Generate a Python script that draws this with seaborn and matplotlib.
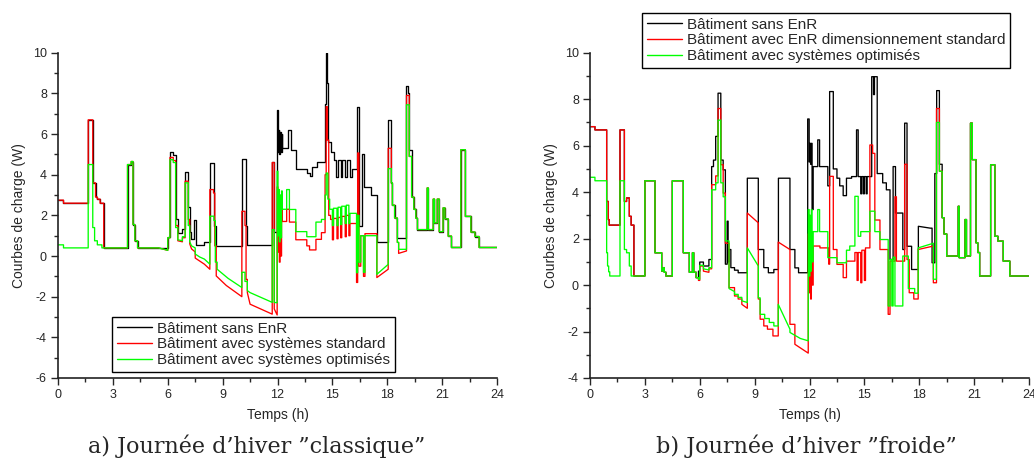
import numpy as np
import pandas as pd
import matplotlib
matplotlib.use("Agg")
import matplotlib.pyplot as plt
from matplotlib.lines import Line2D
from matplotlib.ticker import MultipleLocator
import seaborn as sns

# ---------------- data : panel a) "classique" ----------------
a_head = [(0, 2.75), (0.3, 2.75), (0.3, 2.6), (1.65, 2.6), (1.65, 6.7), (1.9, 6.7), (1.9, 3.6),
          (2.05, 3.6), (2.05, 2.9), (2.15, 2.9), (2.15, 2.8), (2.3, 2.8), (2.3, 2.6), (2.5, 2.6),
          (2.5, 0.4), (3.8, 0.4)]
a_mid = [(3.8, 4.5), (4.0, 4.5), (4.0, 4.65), (4.1, 4.65), (4.1, 1.55), (4.2, 1.55), (4.2, 0.75),
         (4.35, 0.75), (4.35, 0.4)]
a_tail = [(19.33, 2.9), (19.45, 2.9), (19.45, 2.3), (19.56, 2.3), (19.56, 1.86), (19.65, 1.86),
          (19.65, 1.3), (20.18, 1.3), (20.18, 3.35), (20.24, 3.35), (20.24, 1.3), (20.51, 1.3),
          (20.51, 2.8), (20.58, 2.8), (20.58, 1.63), (20.73, 1.63), (20.73, 2.8), (20.84, 2.8),
          (20.84, 1.2), (21.05, 1.2), (21.05, 2.37), (21.15, 2.37), (21.15, 1.83), (21.33, 1.83),
          (21.33, 0.98), (21.51, 0.98), (21.51, 0.42), (22.02, 0.42), (22.02, 5.23), (22.27, 5.23),
          (22.27, 1.95), (22.57, 1.95), (22.57, 1.18), (22.79, 1.18), (22.79, 0.96), (23.02, 0.96),
          (23.02, 0.42), (24, 0.42)]
a_sans_body = [(6.0, 0.4), (6.0, 0.95), (6.12, 0.95), (6.12, 5.1), (6.3, 5.1), (6.3, 4.95), (6.43, 4.95),
               (6.43, 1.8), (6.55, 1.8), (6.55, 1.15), (6.8, 1.15), (6.8, 1.35), (6.95, 1.35), (6.95, 4.15),
               (7.12, 4.15), (7.12, 2.4), (7.2, 2.4), (7.2, 1.2), (7.25, 1.2), (7.25, 0.85), (7.45, 0.85),
               (7.45, 1.75), (7.55, 1.75), (7.55, 0.55), (8.0, 0.55), (8.0, 0.68), (8.3, 0.68), (8.3, 4.6),
               (8.52, 4.6), (8.52, 1.5), (8.62, 1.5), (8.62, 0.5), (10.05, 0.5), (10.05, 4.77), (10.25, 4.77),
               (10.25, 1.5), (10.35, 1.5), (10.35, 0.52), (11.71, 0.52), (11.71, 4.63), (11.82, 4.63),
               (11.82, 1.2), (11.98, 1.2), (11.98, 7.2), (12.02, 7.2), (12.02, 5.1), (12.06, 5.1), (12.06, 6.2),
               (12.1, 6.2), (12.1, 5.0), (12.14, 5.0), (12.14, 6.1), (12.18, 6.1), (12.18, 5.1), (12.22, 5.1),
               (12.22, 6.0), (12.26, 6.0), (12.26, 5.3), (12.55, 5.3), (12.55, 6.2), (12.75, 6.2), (12.75, 5.2),
               (13.0, 5.2), (13.0, 4.3), (13.6, 4.3), (13.6, 4.1), (13.75, 4.1), (13.75, 3.95), (13.9, 3.95),
               (13.9, 4.4), (14.15, 4.4), (14.15, 4.65), (14.6, 4.65), (14.6, 7.5), (14.66, 7.5), (14.66, 10.0),
               (14.72, 10.0), (14.72, 8.5), (14.78, 8.5), (14.78, 5.6), (14.9, 5.6), (14.9, 5.1), (15.1, 5.1),
               (15.1, 4.7), (15.2, 4.7), (15.2, 3.9), (15.3, 3.9), (15.3, 4.7), (15.45, 4.7), (15.45, 3.9),
               (15.55, 3.9), (15.55, 4.7), (15.7, 4.7), (15.7, 3.9), (15.8, 3.9), (15.8, 4.7), (15.95, 4.7),
               (15.95, 3.9), (16.05, 3.9), (16.05, 4.3), (16.32, 4.3), (16.32, 7.35), (16.45, 7.35),
               (16.45, 1.5), (16.62, 1.5), (16.62, 5.0), (16.75, 5.0), (16.75, 3.4), (17.1, 3.4), (17.1, 3.0),
               (17.43, 3.0), (17.43, 0.67), (18.05, 0.67), (18.05, 6.7), (18.22, 6.7), (18.22, 3.6),
               (18.28, 3.6), (18.28, 2.5), (18.4, 2.5), (18.4, 1.87), (18.55, 1.87), (18.55, 0.9),
               (19.05, 0.9), (19.05, 8.37), (19.15, 8.37), (19.15, 8.0), (19.2, 8.0), (19.2, 5.2), (19.33, 5.2)]
a_std_body = [(5.5, 0.4), (6.0, 0.28), (6.0, 0.9), (6.12, 0.9), (6.12, 4.85), (6.3, 4.85), (6.3, 4.7),
              (6.43, 4.7), (6.43, 1.5), (6.55, 1.5), (6.55, 0.75), (6.8, 0.7), (6.8, 0.9), (6.95, 0.9),
              (6.95, 3.68), (7.12, 3.68), (7.12, 1.8), (7.2, 1.8), (7.2, 0.6), (7.3, 0.35), (7.5, 0.2),
              (7.5, -0.1), (7.75, -0.25), (8.0, -0.4), (8.3, -0.65), (8.3, 3.27), (8.5, 3.27), (8.5, 3.1),
              (8.57, 3.1), (8.57, 0.5), (8.65, 0.5), (8.65, -0.98), (9.2, -1.45), (10.05, -2.0), (10.05, 2.2),
              (10.22, 2.2), (10.22, 1.5), (10.28, 1.5), (10.28, -1.15), (10.35, -1.15), (10.35, -1.8),
              (10.5, -2.37), (11.71, -2.86), (11.71, 4.6), (11.82, 4.6), (11.82, -2.6), (11.98, -2.9),
              (11.98, 3.4), (12.02, 3.4), (12.02, 0.2), (12.06, 0.2), (12.06, 2.6), (12.1, 2.6), (12.1, -0.3),
              (12.14, -0.3), (12.14, 2.5), (12.18, 2.5), (12.18, 0.0), (12.22, 0.0), (12.22, 2.3), (12.26, 2.3),
              (12.26, 1.7), (12.5, 1.7), (12.5, 2.3), (12.65, 2.3), (12.65, 1.67), (13.0, 1.67), (13.0, 0.8),
              (13.6, 0.8), (13.6, 0.5), (13.75, 0.5), (13.75, 0.3), (14.1, 0.3), (14.1, 0.82), (14.4, 0.82),
              (14.4, 1.15), (14.6, 1.15), (14.6, 4.0), (14.66, 4.0), (14.66, 7.35), (14.72, 7.35), (14.72, 5.7),
              (14.8, 5.7), (14.8, 2.0), (14.9, 2.0), (14.9, 1.8), (15.0, 1.8), (15.0, 0.8), (15.06, 0.8),
              (15.06, 1.85), (15.25, 1.85), (15.25, 0.85), (15.31, 0.85), (15.31, 1.9), (15.45, 1.9),
              (15.45, 0.9), (15.51, 0.9), (15.51, 1.95), (15.7, 1.95), (15.7, 0.95), (15.76, 0.95),
              (15.76, 2.0), (15.9, 2.0), (15.9, 1.0), (15.96, 1.0), (15.96, 1.6), (16.32, 1.6), (16.32, -1.3),
              (16.38, -1.3), (16.38, 5.07), (16.45, 5.07), (16.45, -0.5), (16.55, -0.5), (16.55, 1.0),
              (16.7, 1.0), (16.7, -1.0), (16.78, -1.0), (16.78, 1.1), (17.43, 1.1), (17.43, -1.06),
              (18.05, -0.65), (18.05, 5.3), (18.22, 5.3), (18.22, 3.6), (18.28, 3.6), (18.28, 2.5), (18.4, 2.5),
              (18.4, 1.87), (18.55, 1.87), (18.55, 0.67), (18.62, 0.67), (18.62, 0.13), (19.05, 0.25),
              (19.05, 7.9), (19.2, 7.9), (19.2, 4.9), (19.33, 4.9)]
a_opt_head = [(0, 0.55), (0.3, 0.55), (0.3, 0.4), (1.65, 0.4), (1.65, 4.5), (1.9, 4.5), (1.9, 1.4), (2.0, 1.4),
              (2.0, 0.75), (2.15, 0.75), (2.15, 0.55), (2.4, 0.55), (2.4, 0.4), (3.8, 0.4)]
a_opt_body = [(5.5, 0.4), (6.0, 0.28), (6.0, 0.9), (6.12, 0.9), (6.12, 4.74), (6.3, 4.74), (6.3, 4.6),
              (6.43, 4.6), (6.43, 1.4), (6.55, 1.4), (6.55, 0.8), (6.8, 0.75), (6.8, 0.95), (6.95, 0.95),
              (6.95, 3.6), (7.12, 3.6), (7.12, 1.5), (7.2, 1.5), (7.2, 0.7), (7.3, 0.5), (7.5, 0.4), (7.5, 0.1),
              (7.75, -0.05), (8.0, -0.15), (8.3, -0.4), (8.3, 1.96), (8.52, 1.96), (8.52, 1.75), (8.6, 1.75),
              (8.6, -0.3), (8.7, -0.3), (8.7, -0.65), (9.3, -1.1), (10.05, -1.55), (10.05, -0.8), (10.22, -0.8),
              (10.22, -1.25), (10.35, -1.25), (10.35, -1.7), (10.5, -1.8), (11.71, -2.28), (11.71, 1.3),
              (11.82, 1.3), (11.82, -2.28), (11.98, -2.3), (11.98, 4.17), (12.02, 4.17), (12.02, 1.0),
              (12.06, 1.0), (12.06, 3.27), (12.1, 3.27), (12.1, 0.7), (12.14, 0.7), (12.14, 3.0), (12.18, 3.0),
              (12.18, 0.9), (12.22, 0.9), (12.22, 3.2), (12.26, 3.2), (12.26, 2.3), (12.5, 2.3), (12.5, 3.27),
              (12.65, 3.27), (12.65, 2.29), (13.0, 2.29), (13.0, 1.2), (13.6, 1.2), (13.6, 0.95), (14.1, 0.95),
              (14.1, 1.67), (14.4, 1.67), (14.4, 1.8), (14.6, 1.8), (14.6, 3.0), (14.66, 3.0), (14.66, 4.08),
              (14.75, 4.08), (14.75, 2.8), (14.85, 2.8), (14.85, 2.3), (15.0, 2.3), (15.0, 1.5), (15.06, 1.5),
              (15.06, 2.35), (15.25, 2.35), (15.25, 1.5), (15.31, 1.5), (15.31, 2.4), (15.45, 2.4),
              (15.45, 1.55), (15.51, 1.55), (15.51, 2.45), (15.7, 2.45), (15.7, 1.6), (15.76, 1.6),
              (15.76, 2.5), (15.9, 2.5), (15.9, 1.6), (15.96, 1.6), (15.96, 2.1), (16.32, 2.1), (16.32, -0.82),
              (16.38, -0.82), (16.38, 2.0), (16.45, 2.0), (16.45, -0.3), (16.55, -0.3), (16.55, 1.0),
              (16.7, 1.0), (16.7, -0.8), (16.78, -0.8), (16.78, 1.0), (17.43, 1.0), (17.43, -0.9),
              (18.05, -0.41), (18.05, 4.3), (18.22, 4.3), (18.22, 3.6), (18.28, 3.6), (18.28, 2.5), (18.4, 2.5),
              (18.4, 1.87), (18.55, 1.87), (18.55, 0.67), (18.62, 0.67), (18.62, 0.33), (19.05, 0.33),
              (19.05, 7.44), (19.2, 7.44), (19.2, 4.9), (19.33, 4.9)]

# ---------------- data : panel b) "froide" ----------------
b_head = [(0, 6.82), (0.27, 6.82), (0.27, 6.68), (0.91, 6.68), (0.91, 3.6), (1.0, 3.6), (1.0, 2.82),
          (1.05, 2.82), (1.05, 2.58), (1.64, 2.58), (1.64, 6.68), (1.88, 6.68), (1.88, 3.6), (2.0, 3.6),
          (2.0, 3.75), (2.15, 3.75), (2.15, 2.96), (2.25, 2.96), (2.25, 2.58), (2.4, 2.58), (2.4, 0.39),
          (3.0, 0.39)]
b_opt_head = [(0, 4.64), (0.27, 4.64), (0.27, 4.49), (0.91, 4.49), (0.91, 1.39), (0.96, 1.39), (0.96, 0.82),
              (1.02, 0.82), (1.02, 0.57), (1.08, 0.57), (1.08, 0.39), (1.64, 0.39), (1.64, 4.49), (1.88, 4.49),
              (1.88, 1.53), (2.0, 1.53), (2.0, 1.39), (2.15, 1.39), (2.15, 0.82), (2.25, 0.82), (2.25, 0.39),
              (3.0, 0.39)]
b_mid = [(3.0, 4.49), (3.55, 4.49), (3.55, 1.39), (3.92, 1.39), (3.92, 0.6), (4.0, 0.6), (4.0, 0.75),
         (4.06, 0.75), (4.06, 0.55), (4.15, 0.55), (4.15, 0.39), (4.5, 0.39), (4.5, 4.49), (5.1, 4.49),
         (5.1, 1.39), (5.43, 1.39), (5.43, 0.55), (5.6, 0.55), (5.6, 1.39), (5.67, 1.39), (5.67, 0.55),
         (5.8, 0.55), (5.8, 0.32), (5.93, 0.32)]
b_tail = [(19.25, 2.9), (19.35, 2.9), (19.35, 2.2), (19.5, 2.2), (19.5, 1.25), (20.13, 1.25), (20.13, 3.39),
          (20.18, 3.39), (20.18, 1.18), (20.5, 1.18), (20.5, 2.82), (20.58, 2.82), (20.58, 1.25), (20.8, 1.25),
          (20.8, 6.97), (20.9, 6.97), (20.9, 5.4), (21.1, 5.4), (21.1, 1.82), (21.2, 1.82), (21.2, 1.4),
          (21.3, 1.4), (21.3, 0.39), (21.9, 0.39), (21.9, 5.18), (22.13, 5.18), (22.13, 2.1), (22.3, 2.1),
          (22.3, 1.89), (22.59, 1.89), (22.59, 1.03), (22.95, 1.03), (22.95, 0.39), (24, 0.39)]
b_sans_body = [(5.93, 0.6), (6.0, 0.6), (6.0, 0.99), (6.2, 0.99), (6.2, 0.82), (6.5, 0.82), (6.5, 1.1),
               (6.65, 1.1), (6.65, 5.1), (6.75, 5.1), (6.75, 5.38), (6.87, 5.38), (6.87, 6.4), (7.0, 6.4),
               (7.0, 8.26), (7.15, 8.26), (7.15, 5.38), (7.28, 5.38), (7.28, 4.96), (7.4, 4.96), (7.4, 0.9),
               (7.5, 0.9), (7.5, 2.75), (7.55, 2.75), (7.55, 1.0), (7.6, 1.0), (7.6, 1.53), (7.7, 1.53),
               (7.7, 0.75), (7.9, 0.75), (7.9, 0.64), (8.1, 0.64), (8.1, 0.53), (8.6, 0.53), (8.6, 4.6),
               (9.2, 4.6), (9.2, 1.53), (9.5, 1.53), (9.5, 0.75), (9.75, 0.75), (9.75, 0.53), (10.05, 0.53),
               (10.05, 0.67), (10.3, 0.67), (10.3, 4.6), (10.93, 4.6), (10.93, 1.53), (11.2, 1.53),
               (11.2, 0.74), (11.4, 0.74), (11.4, 0.53), (11.9, 0.53), (11.9, 7.15), (11.98, 7.15),
               (11.98, 5.3), (12.02, 5.3), (12.02, 6.1), (12.06, 6.1), (12.06, 5.2), (12.1, 5.2), (12.1, 6.1),
               (12.14, 6.1), (12.14, 3.25), (12.2, 3.25), (12.2, 5.1), (12.45, 5.1), (12.45, 6.25),
               (12.55, 6.25), (12.55, 5.1), (13.0, 5.1), (13.0, 4.27), (13.1, 4.27), (13.1, 8.33),
               (13.3, 8.33), (13.3, 5.0), (13.5, 5.0), (13.5, 4.6), (13.65, 4.6), (13.65, 4.27), (13.84, 4.27),
               (13.84, 3.85), (14.02, 3.85), (14.02, 4.6), (14.3, 4.6), (14.3, 4.67), (14.57, 4.67),
               (14.57, 6.68), (14.66, 6.68), (14.66, 4.67), (14.8, 4.67), (14.8, 3.93), (14.86, 3.93),
               (14.86, 4.67), (14.95, 4.67), (14.95, 3.93), (15.0, 3.93), (15.0, 4.67), (15.1, 4.67),
               (15.1, 3.93), (15.15, 3.93), (15.15, 4.67), (15.4, 4.67), (15.4, 8.97), (15.5, 8.97),
               (15.5, 8.2), (15.55, 8.2), (15.55, 8.97), (15.7, 8.97), (15.7, 4.8), (16.0, 4.8), (16.0, 4.4),
               (16.2, 4.4), (16.2, 4.1), (16.4, 4.1), (16.4, 1.1), (16.57, 1.1), (16.57, 5.1), (16.7, 5.1),
               (16.7, 3.1), (17.1, 3.1), (17.1, 1.53), (17.2, 1.53), (17.2, 6.97), (17.33, 6.97), (17.33, 1.67),
               (17.58, 1.67), (17.58, 0.67), (17.95, 0.67), (17.95, 2.53), (18.6, 2.45), (18.7, 2.45),
               (18.7, 0.96), (18.85, 0.96), (18.85, 4.8), (18.95, 4.8), (18.95, 8.37), (19.1, 8.37),
               (19.1, 5.2), (19.25, 5.2)]
b_std_body = [(5.93, 0.2), (6.0, 0.2), (6.0, 0.82), (6.2, 0.82), (6.2, 0.6), (6.5, 0.55), (6.5, 0.7),
              (6.65, 0.7), (6.65, 4.32), (6.87, 4.32), (6.87, 4.7), (7.0, 4.7), (7.0, 7.6), (7.15, 7.6),
              (7.15, 5.18), (7.28, 5.18), (7.28, 3.96), (7.4, 3.96), (7.4, 1.8), (7.6, 1.8), (7.6, -0.11),
              (7.9, -0.11), (7.9, -0.47), (8.1, -0.47), (8.1, -0.6), (8.3, -0.6), (8.3, -0.83), (8.6, -1.0),
              (8.6, 3.1), (9.2, 2.68), (9.2, -0.6), (9.3, -0.6), (9.3, -1.47), (9.5, -1.47), (9.5, -1.76),
              (9.7, -1.76), (9.7, -1.9), (10.0, -1.9), (10.0, -2.19), (10.29, -2.19), (10.29, 1.85),
              (10.93, 1.53), (10.93, -1.69), (11.2, -1.69), (11.2, -2.55), (11.93, -2.93), (11.93, 2.2),
              (11.98, 2.2), (11.98, -0.33), (12.02, -0.33), (12.02, 1.9), (12.06, 1.9), (12.06, -0.6),
              (12.1, -0.6), (12.1, 2.0), (12.14, 2.0), (12.14, 0.0), (12.2, 0.0), (12.2, 1.68), (12.57, 1.68),
              (12.57, 1.6), (13.05, 1.6), (13.05, 0.9), (13.1, 0.9), (13.1, 4.68), (13.3, 4.68), (13.3, 1.53),
              (13.5, 1.53), (13.5, 0.89), (13.84, 0.89), (13.84, 0.32), (14.02, 0.32), (14.02, 1.03),
              (14.48, 1.03), (14.48, 1.4), (14.6, 1.4), (14.6, 0.2), (14.66, 0.2), (14.66, 1.4), (14.8, 1.4),
              (14.8, 0.1), (14.86, 0.1), (14.86, 1.5), (15.0, 1.5), (15.0, 0.2), (15.06, 0.2), (15.06, 1.6),
              (15.3, 1.6), (15.3, 6.03), (15.45, 6.03), (15.45, 5.67), (15.57, 5.67), (15.57, 2.8),
              (15.85, 2.8), (15.85, 1.53), (16.3, 1.53), (16.3, -1.26), (16.4, -1.26), (16.4, 1.03),
              (16.67, 1.03), (16.67, 3.8), (16.75, 3.8), (16.75, 1.03), (17.2, 1.03), (17.2, 5.2),
              (17.33, 5.2), (17.33, 1.1), (17.45, 1.1), (17.45, -0.33), (17.7, -0.33), (17.7, -0.6),
              (17.94, -0.6), (17.94, 1.53), (18.77, 1.68), (18.77, 0.1), (18.94, 0.1), (18.94, 7.6),
              (19.1, 7.6), (19.1, 4.9), (19.25, 4.9)]
b_opt_body = [(5.93, 0.25), (6.0, 0.25), (6.0, 0.85), (6.2, 0.85), (6.2, 0.7), (6.5, 0.65), (6.5, 0.75),
              (6.65, 0.75), (6.65, 4.1), (6.87, 4.1), (6.87, 4.4), (7.0, 4.4), (7.0, 7.1), (7.15, 7.1),
              (7.15, 4.4), (7.28, 4.4), (7.28, 3.8), (7.4, 3.8), (7.4, 1.9), (7.6, 1.9), (7.6, -0.15),
              (7.9, -0.28), (7.9, -0.4), (8.1, -0.4), (8.1, -0.53), (8.3, -0.53), (8.3, -0.68), (8.6, -0.75),
              (8.6, 1.6), (9.2, 0.82), (9.2, -0.55), (9.3, -0.55), (9.3, -1.26), (9.55, -1.26), (9.55, -1.44),
              (9.8, -1.44), (9.8, -1.61), (10.05, -1.61), (10.05, -1.76), (10.29, -1.76), (10.29, -0.83),
              (10.93, -1.9), (10.93, -2.04), (11.5, -2.3), (11.93, -2.4), (11.93, 3.25), (11.98, 3.25),
              (11.98, 0.39), (12.02, 0.39), (12.02, 3.0), (12.06, 3.0), (12.06, 0.6), (12.1, 0.6),
              (12.1, 3.25), (12.14, 3.25), (12.14, 1.0), (12.2, 1.0), (12.2, 2.3), (12.45, 2.3), (12.45, 3.25),
              (12.55, 3.25), (12.55, 2.3), (13.0, 2.3), (13.0, 1.18), (13.5, 1.18), (13.5, 0.96),
              (14.02, 0.96), (14.02, 1.5), (14.2, 1.5), (14.2, 1.68), (14.48, 1.68), (14.48, 3.82),
              (14.66, 3.82), (14.66, 2.1), (14.8, 2.1), (14.8, 2.3), (15.3, 2.3), (15.3, 3.18), (15.57, 3.18),
              (15.57, 2.3), (15.85, 2.3), (15.85, 1.96), (16.3, 1.96), (16.3, -0.9), (16.4, -0.9), (16.4, 1.1),
              (16.5, 1.1), (16.5, -0.9), (16.57, -0.9), (16.57, 1.2), (16.67, 1.2), (16.67, -0.9),
              (17.1, -0.9), (17.1, 1.25), (17.4, 1.25), (17.4, -0.15), (17.75, -0.15), (17.75, -0.35),
              (17.94, -0.35), (17.94, 1.6), (18.77, 1.8), (18.77, 0.25), (18.94, 0.25), (18.94, 7.0),
              (19.1, 7.0), (19.1, 4.9), (19.25, 4.9)]

labels_a = ["Bâtiment sans EnR", "Bâtiment avec systèmes standard", "Bâtiment avec systèmes optimisés"]
labels_b = ["Bâtiment sans EnR", "Bâtiment avec EnR dimensionnement standard", "Bâtiment avec systèmes optimisés"]
captions = ["a) Journée d’hiver ”classique”", "b) Journée d’hiver ”froide”"]
colors = ["#000000", "#FF0000", "#00FF00"]

series_a = [a_head + a_mid + a_sans_body + a_tail,
            a_head + a_mid + a_std_body + a_tail,
            a_opt_head + a_mid + a_opt_body + a_tail]
series_b = [b_head + b_mid + b_sans_body + b_tail,
            b_head + b_mid + b_std_body + b_tail,
            b_opt_head + b_mid + b_opt_body + b_tail]

# ---------------- style ----------------
sns.set_style("ticks")
plt.rcParams["font.family"] = ["Liberation Sans", "DejaVu Sans"]
plt.rcParams["axes.unicode_minus"] = False

fig = plt.figure(figsize=(10.34, 4.72), dpi=100)
ax_a = fig.add_axes([0.0561, 0.1992, 0.4246, 0.689])
ax_b = fig.add_axes([0.5706, 0.1992, 0.4246, 0.689])


def draw(ax, series, ylim):
    for pts, col in zip(series, colors):
        df = pd.DataFrame(pts, columns=["t", "v"])
        sns.lineplot(data=df, x="t", y="v", ax=ax, sort=False, estimator=None,
                     color=col, linewidth=0.95, legend=False)
    ax.set_xlim(0, 24)
    ax.set_ylim(*ylim)
    ax.xaxis.set_major_locator(MultipleLocator(3))
    ax.xaxis.set_minor_locator(MultipleLocator(1.5))
    ax.yaxis.set_major_locator(MultipleLocator(2))
    ax.yaxis.set_minor_locator(MultipleLocator(1))
    for s in ["top", "right"]:
        ax.spines[s].set_visible(False)
    for s in ["left", "bottom"]:
        ax.spines[s].set_linewidth(1.2)
        ax.spines[s].set_color("#222222")
    ax.tick_params(which="major", direction="out", length=5, width=1.0, labelsize=9, pad=3)
    ax.tick_params(which="minor", direction="out", length=3, width=1.0)
    ax.set_xlabel("Temps (h)", fontsize=10, labelpad=5)
    ax.set_ylabel("Courbes de charge (W)", fontsize=10, labelpad=5)


draw(ax_a, series_a, (-6, 10))
draw(ax_b, series_b, (-4, 10))
handles = [Line2D([0], [0], color=c, linewidth=1.0) for c in colors]

leg_kw = dict(loc="upper left", bbox_transform=fig.transFigure, fontsize=11, frameon=True,
              fancybox=False, handlelength=2.3, handletextpad=0.35, borderpad=0.3,
              labelspacing=0.12, borderaxespad=0)
leg_a = ax_a.legend(handles, labels_a, bbox_to_anchor=(112 / 1034, 1 - 317 / 472), **leg_kw)
leg_b = ax_b.legend(handles, labels_b, bbox_to_anchor=(642 / 1034, 1 - 13 / 472), **leg_kw)
for leg in (leg_a, leg_b):
    fr = leg.get_frame()
    fr.set_edgecolor("black")
    fr.set_linewidth(1.0)
    fr.set_alpha(1)

cap_font = ["DejaVu Serif"]
fig.text(257 / 1034, 1 - 446 / 472, captions[0], ha="center", va="center",
         fontsize=16, family=cap_font, fontweight="light")
fig.text(806 / 1034, 1 - 446 / 472, captions[1], ha="center", va="center",
         fontsize=16, family=cap_font, fontweight="light")

fig.savefig("out.png", dpi=100)
